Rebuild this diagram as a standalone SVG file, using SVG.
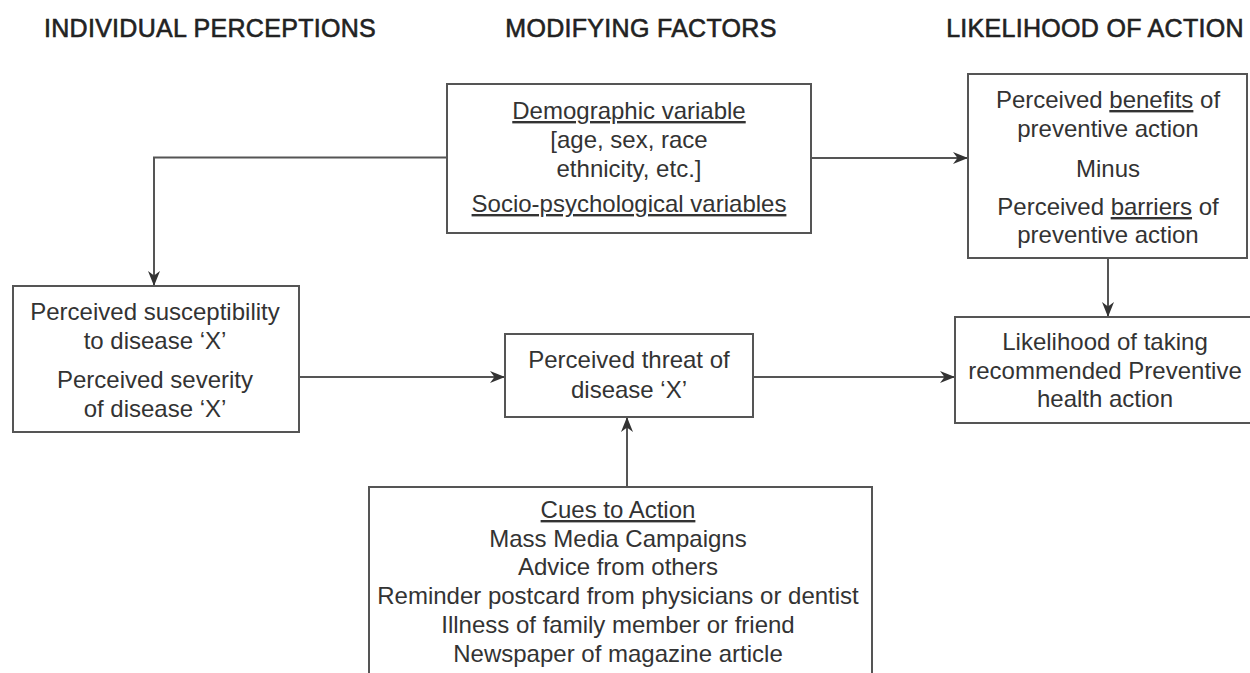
<svg xmlns="http://www.w3.org/2000/svg" width="1250" height="673" viewBox="0 0 1250 673">
<style>
  .box { fill: #ffffff; stroke: #555555; stroke-width: 2; }
  .t { font-family: "Liberation Sans", Arial, sans-serif; font-size: 24px; fill: #333333; text-anchor: middle; }
  .h { font-family: "Liberation Sans", Arial, sans-serif; font-size: 25px; fill: #222222; stroke: #222222; stroke-width: 0.6px; text-anchor: middle; letter-spacing: 0.3px; }
  .u { text-decoration: underline; }
  .c { fill: none; stroke: #555555; stroke-width: 2; }
</style>
<defs>
  <marker id="arrs" viewBox="0 0 10 10" refX="10" refY="5" markerWidth="15" markerHeight="15" orient="auto" markerUnits="userSpaceOnUse">
    <path d="M0,1 L10,5 L0,9 L3,5 Z" fill="#333333"/>
  </marker>
</defs>
<rect width="1250" height="673" fill="#ffffff"/>

<g id="headers">
  <text class="h" x="210" y="37">INDIVIDUAL PERCEPTIONS</text>
  <text class="h" x="641" y="37">MODIFYING FACTORS</text>
  <text class="h" x="1095" y="37">LIKELIHOOD OF ACTION</text>
</g>

<g id="connectors">
  <path class="c" d="M447,157.5 H154 V286" marker-end="url(#arrs)"/>
  <path class="c" d="M811,158 H968" marker-end="url(#arrs)"/>
  <path class="c" d="M1108,258 V317" marker-end="url(#arrs)"/>
  <path class="c" d="M299,377 H505" marker-end="url(#arrs)"/>
  <path class="c" d="M753,377 H955" marker-end="url(#arrs)"/>
  <path class="c" d="M627,487 V417" marker-end="url(#arrs)"/>
</g>

<g id="demographic">
  <rect class="box" x="447" y="84" width="364" height="149"/>
  <text class="t" x="629" y="119"><tspan class="u">Demographic variable</tspan></text>
  <text class="t" x="629" y="148">[age, sex, race</text>
  <text class="t" x="629" y="177">ethnicity, etc.]</text>
  <text class="t" x="629" y="212"><tspan class="u">Socio-psychological variables</tspan></text>
</g>

<g id="benefits">
  <rect class="box" x="968" y="74" width="279" height="184"/>
  <text class="t" x="1108" y="108">Perceived <tspan class="u">benefits</tspan> of</text>
  <text class="t" x="1108" y="137">preventive action</text>
  <text class="t" x="1108" y="177">Minus</text>
  <text class="t" x="1108" y="215">Perceived <tspan class="u">barriers</tspan> of</text>
  <text class="t" x="1108" y="243">preventive action</text>
</g>

<g id="susceptibility">
  <rect class="box" x="13" y="286" width="286" height="146"/>
  <text class="t" x="155" y="320">Perceived susceptibility</text>
  <text class="t" x="155" y="349">to disease ‘X’</text>
  <text class="t" x="155" y="388">Perceived severity</text>
  <text class="t" x="155" y="417">of disease ‘X’</text>
</g>

<g id="threat">
  <rect class="box" x="505" y="334" width="248" height="83"/>
  <text class="t" x="629" y="368">Perceived threat of</text>
  <text class="t" x="629" y="398">disease ‘X’</text>
</g>

<g id="likelihood">
  <rect class="box" x="955" y="317" width="300" height="106"/>
  <text class="t" x="1105" y="350">Likelihood of taking</text>
  <text class="t" x="1105" y="379">recommended Preventive</text>
  <text class="t" x="1105" y="407">health action</text>
</g>

<g id="cues">
  <rect class="box" x="369" y="487" width="503" height="200"/>
  <text class="t" x="618" y="518"><tspan class="u">Cues to Action</tspan></text>
  <text class="t" x="618" y="547">Mass Media Campaigns</text>
  <text class="t" x="618" y="575">Advice from others</text>
  <text class="t" x="618" y="604">Reminder postcard from physicians or dentist</text>
  <text class="t" x="618" y="633">Illness of family member or friend</text>
  <text class="t" x="618" y="662">Newspaper of magazine article</text>
</g>
</svg>
